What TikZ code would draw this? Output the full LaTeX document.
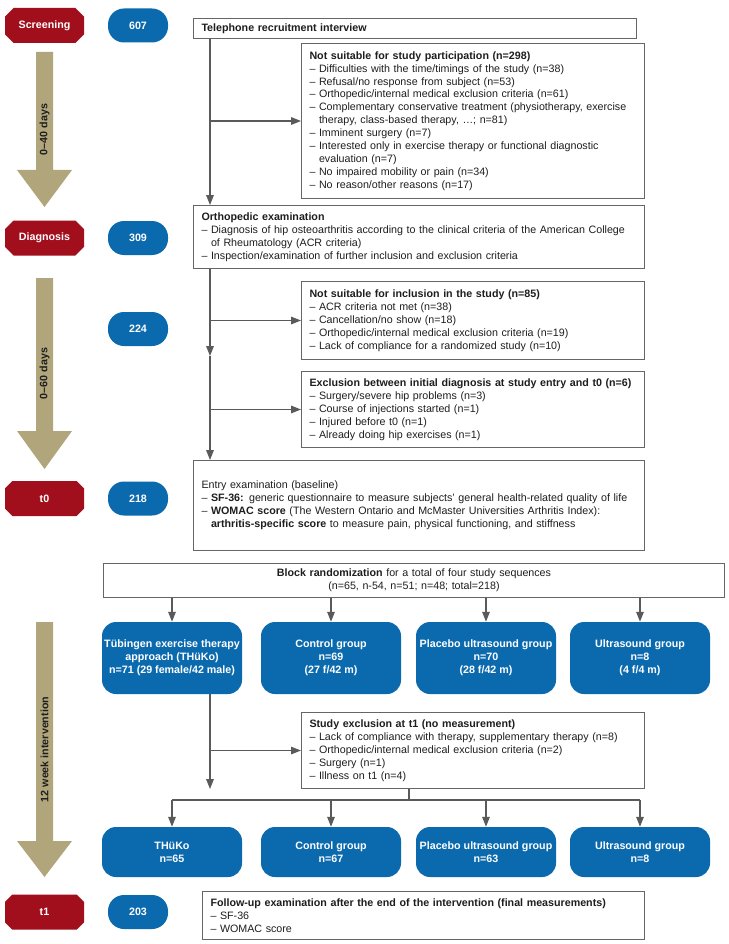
\documentclass[tikz,border=0pt]{standalone}
\usepackage{fontspec}
\setmainfont{Liberation Sans}
\usepackage{tikz}
\usetikzlibrary{arrows.meta, shapes.misc}
\definecolor{octred}{HTML}{A10E1C}
\definecolor{countblue}{HTML}{0B6AAE}
\definecolor{timetan}{HTML}{B1A57B}
\definecolor{linegray}{HTML}{5A5A5A}
\definecolor{boxgray}{HTML}{666666}
\definecolor{textdark}{HTML}{1E1E1E}
\tikzset{
    phase/.style={chamfered rectangle, chamfered rectangle xsep=11pt, fill=octred, text=white,
        font=\bfseries\fontsize{10.7}{12.9}\selectfont, minimum width=79pt, minimum height=35pt, inner sep=0pt},
    count/.style={rectangle, rounded corners=16pt, fill=countblue, text=white,
        font=\bfseries\fontsize{10.7}{12.9}\selectfont, minimum width=60pt, minimum height=34pt, inner sep=0pt},
    infobox/.style={draw=boxgray, line width=1pt, fill=white, align=left, anchor=north west,
        inner xsep=8pt, inner ysep=0pt, text=textdark, font=\fontsize{10.7}{12.9}\selectfont},
    group/.style={rectangle, rounded corners=14pt, fill=countblue, text=white, align=center,
        font=\bfseries\fontsize{10.7}{12.8}\selectfont, minimum width=140pt, inner sep=2pt},
    period/.style={rotate=90, text=textdark, font=\bfseries\fontsize{10.7}{12.9}\selectfont},
    flow/.style={draw=linegray, line width=1.4pt, -{Triangle[length=10pt, width=7.5pt]}},
    link/.style={draw=linegray, line width=1.4pt}
}

\begin{document}
\begin{tikzpicture}[x=1pt, y=-1pt]
    \fill[white] (0,0) rectangle (728,944);
    \useasboundingbox (0,0) rectangle (728,944);

    \fill[timetan] (36,52) -- (53,52) -- (53,170) -- (72,170) -- (44.5,207) -- (17,170) -- (36,170) -- cycle;
    \fill[timetan] (36,278) -- (53,278) -- (53,431) -- (72,431) -- (44.5,469) -- (17,431) -- (36,431) -- cycle;
    \fill[timetan] (36,622) -- (53,622) -- (53,841) -- (72,841) -- (44.5,877) -- (17,841) -- (36,841) -- cycle;
    \node[period] (waitA) at (44.5,129.5) {0–40 days};
    \node[period] (waitB) at (44.5,373.5) {0–60 days};
    \node[period] (waitC) at (44.5,749.5) {12 week intervention};

    \node[phase] (screening) at (44.5,25.5) {Screening};
    \node[phase] (diagnosis) at (44.5,238) {Diagnosis};
    \node[phase] (tzero) at (44.5,498.5) {t0};
    \node[phase] (tone) at (44.5,912) {t1};

    \node[count] (nScreen) at (138,25.5) {607};
    \node[count] (nDiag) at (138,238) {309};
    \node[count] (nMid) at (138,329) {224};
    \node[count] (nBase) at (138,498.5) {218};
    \node[count] (nFinal) at (138,912) {203};

    \node[infobox, text width=427pt, minimum height=20pt] (phone) at (193,18)
        {\textbf{Telephone recruitment interview}};
    \node[infobox, text width=327pt, minimum height=155pt] (notsuit) at (301,43){
        \textbf{Not suitable for study participation (n=298)}\\
        – Difficulties with the time/timings of the study (n=38)\\
        – Refusal/no response from subject (n=53)\\
        – Orthopedic/internal medical exclusion criteria (n=61)\\
        – Complementary conservative treatment (physiotherapy, exercise\\
        \phantom{– }therapy, class-based therapy, …; n=81)\\
        – Imminent surgery (n=7)\\
        – Interested only in exercise therapy or functional diagnostic\\
        \phantom{– }evaluation (n=7)\\
        – No impaired mobility or pain (n=34)\\
        – No reason/other reasons (n=17)
    };
    \node[infobox, text width=435pt, minimum height=63pt] (ortho) at (193,205){
        \textbf{Orthopedic examination}\\
        – Diagnosis of hip osteoarthritis according to the clinical criteria of the American College\\
        \phantom{– }of Rheumatology (ACR criteria)\\
        – Inspection/examination of further inclusion and exclusion criteria
    };
    \node[infobox, text width=327pt, minimum height=78pt] (notincl) at (301,281){
        \textbf{Not suitable for inclusion in the study (n=85)}\\
        – ACR criteria not met (n=38)\\
        – Cancellation/no show (n=18)\\
        – Orthopedic/internal medical exclusion criteria (n=19)\\
        – Lack of compliance for a randomized study (n=10)
    };
    \node[infobox, text width=327pt, minimum height=76pt] (exclbase) at (301,371){
        \textbf{Exclusion between initial diagnosis at study entry and t0 (n=6)}\\
        – Surgery/severe hip problems (n=3)\\
        – Course of injections started (n=1)\\
        – Injured before t0 (n=1)\\
        – Already doing hip exercises (n=1)
    };
    \node[infobox, text width=435pt, minimum height=90pt] (entry) at (193,460){
        Entry examination (baseline)\\
        – \textbf{SF-36:} generic questionnaire to measure subjects’ general health-related quality of life\\
        – \textbf{WOMAC score} (The Western Ontario and McMaster Universities Arthritis Index):\\
        \phantom{– }\textbf{arthritis-specific score} to measure pain, physical functioning, and stiffness
    };
    \node[infobox, align=center, text width=605pt, minimum height=34pt] (rando) at (103,563){
        \textbf{Block randomization} for a total of four study sequences\\
        (n=65, n-54, n=51; n=48; total=218)
    };

    \node[group, minimum height=72pt] (thueko) at (172,658)
        {Tübingen exercise therapy\\approach (THüKo)\\n=71 (29 female/42 male)};
    \node[group, minimum height=72pt] (control) at (331,658) {Control group\\n=69\\(27 f/42 m)};
    \node[group, minimum height=72pt] (placebo) at (486,658) {Placebo ultrasound group\\n=70\\(28 f/42 m)};
    \node[group, minimum height=72pt] (ultra) at (640,658) {Ultrasound group\\n=8\\(4 f/4 m)};

    \node[infobox, text width=327pt, minimum height=76pt] (studyexcl) at (301,712){
        \textbf{Study exclusion at t1 (no measurement)}\\
        – Lack of compliance with therapy, supplementary therapy (n=8)\\
        – Orthopedic/internal medical exclusion criteria (n=2)\\
        – Surgery (n=1)\\
        – Illness on t1 (n=4)
    };

    \node[group, minimum height=50pt] (thuekoEnd) at (172,852) {THüKo\\n=65};
    \node[group, minimum height=50pt] (controlEnd) at (331,852) {Control group\\n=67};
    \node[group, minimum height=50pt] (placeboEnd) at (486,852) {Placebo ultrasound group\\n=63};
    \node[group, minimum height=50pt] (ultraEnd) at (640,852) {Ultrasound group\\n=8};

    \node[infobox, text width=426pt, minimum height=48pt] (followup) at (202,891){
        \textbf{Follow-up examination after the end of the intervention (final measurements)}\\
        – SF-36\\
        – WOMAC score
    };

    \coordinate (trunk) at (210,0);
    \coordinate (split) at (210,356);
    \coordinate (fork) at (409,800);
    \draw[flow] (trunk |- phone.south) -- (trunk |- ortho.north);
    \draw[flow] (trunk |- notsuit.west) -- (notsuit.west);
    \draw[flow] (trunk |- ortho.south) -- (split);
    \draw[flow] (trunk |- notincl.west) -- (notincl.west);
    \draw[flow] (split) -- (trunk |- entry.north);
    \draw[flow] (trunk |- exclbase.west) -- (exclbase.west);

    \draw[flow] (rando.south -| thueko.north) -- (thueko.north);
    \draw[flow] (rando.south -| control.north) -- (control.north);
    \draw[flow] (rando.south -| placebo.north) -- (placebo.north);
    \draw[flow] (rando.south -| ultra.north) -- (ultra.north);

    \draw[flow] (trunk |- thueko.south) -- (trunk |- studyexcl.south);
    \draw[flow] (trunk |- studyexcl.west) -- (studyexcl.west);
    \draw[link] (fork |- studyexcl.south) -- (fork);
    \draw[link] (fork -| thuekoEnd.north) -- (fork -| ultraEnd.north);
    \draw[flow] (fork -| thuekoEnd.north) -- (thuekoEnd.north);
    \draw[flow] (fork -| controlEnd.north) -- (controlEnd.north);
    \draw[flow] (fork -| placeboEnd.north) -- (placeboEnd.north);
    \draw[flow] (fork -| ultraEnd.north) -- (ultraEnd.north);
  \end{tikzpicture}
\end{document}
